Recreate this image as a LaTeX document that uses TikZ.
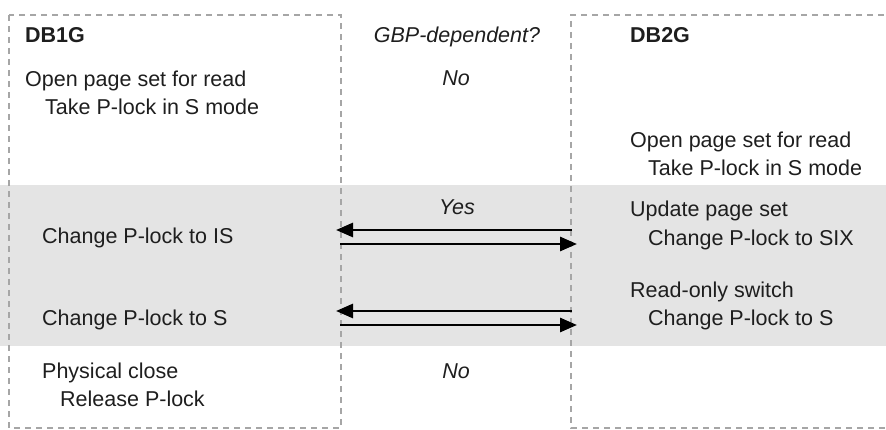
\documentclass[tikz,border=0pt]{standalone}
\usepackage{fontspec}
\setmainfont{Liberation Sans}
\usetikzlibrary{arrows.meta}
\definecolor{band}{HTML}{E4E4E4}
\definecolor{dash}{HTML}{A6A6A6}
\definecolor{ink}{HTML}{1E1E1E}
\tikzset{
  txt/.style={anchor=base west, inner sep=0pt, text=ink, font=\fontsize{21.5}{26}\selectfont},
  ital/.style={txt, font=\fontsize{21.5}{26}\selectfont\itshape},
  hdr/.style={txt, font=\fontsize{21.5}{26}\selectfont\bfseries},
  lifebox/.style={draw=dash, line width=2.6pt, dash pattern=on 6pt off 5pt},
  msg/.style={draw=black, line width=2.8pt, -{Triangle[length=17pt,width=14pt]}}
}
\begin{document}
\begin{tikzpicture}[x=1pt,y=-1pt]
\useasboundingbox (0,0) rectangle (886,430);
\fill[band] (0,185) rectangle (886,346);
\begin{scope}
\clip (0,0) rectangle (886,430);
\draw[lifebox] (9,15) rectangle (341,428);
\draw[lifebox] (895,15) -- (571,15) -- (571,428) -- (895,428);
\end{scope}
% left column
\node[hdr] (db1) at (25,43) {DB1G};
\node[txt] (l1) at (25,87) {Open page set for read};
\node[txt] (l2) at (45,115) {Take P-lock in S mode};
\node[txt] (l3) at (42,244) {Change P-lock to IS};
\node[txt] (l4) at (42,326) {Change P-lock to S};
\node[txt] (l5) at (42,378) {Physical close};
\node[txt] (l6) at (60,406) {Release P-lock};
% middle
\node[ital, anchor=base] (gbp) at (457,43) {GBP-dependent?};
\node[ital, anchor=base] (no1) at (456,86) {No};
\node[ital, anchor=base] (yes) at (457,215) {Yes};
\node[ital, anchor=base] (no2) at (456,378) {No};
% right column
\node[hdr] (db2) at (630,43) {DB2G};
\node[txt] (r1) at (630,148) {Open page set for read};
\node[txt] (r2) at (648,176) {Take P-lock in S mode};
\node[txt] (r3) at (630,217) {Update page set};
\node[txt] (r4) at (648,246) {Change P-lock to SIX};
\node[txt] (r5) at (630,298) {Read-only switch};
\node[txt] (r6) at (648,326) {Change P-lock to S};
% arrows
\coordinate (a1s) at (572,230); \coordinate (a1e) at (336,230);
\coordinate (a2s) at (340,244); \coordinate (a2e) at (577,244);
\coordinate (a3s) at (572,311); \coordinate (a3e) at (336,311);
\coordinate (a4s) at (340,325); \coordinate (a4e) at (577,325);
\draw[msg] (a1s) -- (a1e);
\draw[msg] (a2s) -- (a2e);
\draw[msg] (a3s) -- (a3e);
\draw[msg] (a4s) -- (a4e);
\end{tikzpicture}
\end{document}
